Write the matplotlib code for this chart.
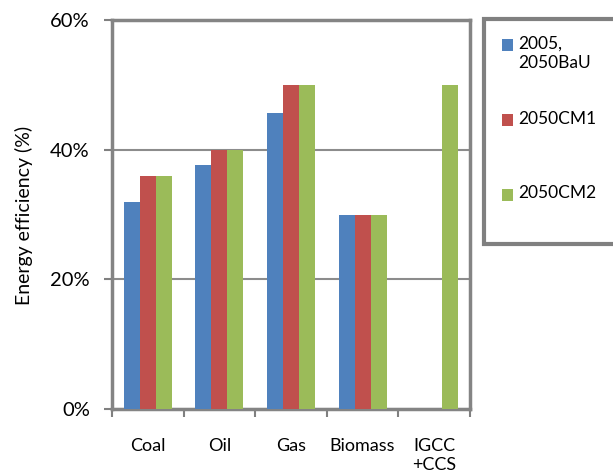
import matplotlib
matplotlib.use("Agg")
import matplotlib.pyplot as plt
from matplotlib.patches import Rectangle
import numpy as np

categories = ["Coal", "Oil", "Gas", "Biomass", "IGCC\n+CCS"]
series_names = ["2005,\n2050BaU", "2050CM1", "2050CM2"]
bau = [32.0, 37.7, 45.7, 30.0, 0.0]
cm1 = [36.0, 40.0, 50.0, 30.0, 0.0]
cm2 = [36.0, 40.0, 50.0, 30.0, 50.0]
yticks = [0, 20, 40, 60]
ytick_labels = ["0%", "20%", "40%", "60%"]
colors = ["#4F81BD", "#C0504D", "#9BBB59"]

plt.rcParams['font.family'] = ['Lato', 'DejaVu Sans']

fig = plt.figure(figsize=(6.13, 4.75), dpi=100)
W, H = 613, 475
ax = fig.add_axes([112 / W, 1 - 409 / H, (470 - 112) / W, (409 - 20) / H])

x = np.arange(len(categories))
bw = 0.224
for i, (vals, c) in enumerate(zip([bau, cm1, cm2], colors)):
    ax.bar(x + (i - 1) * bw, vals, width=bw, color=c, zorder=3, linewidth=0)

ax.set_xlim(-0.5, len(categories) - 0.5)
ax.set_ylim(0, 60)
ax.set_yticks(yticks)
ax.set_yticklabels(ytick_labels, fontsize=14.5)
ax.set_xticks(x)
ax.set_xticklabels(categories, fontsize=13, linespacing=1.25)
ax.set_xticks(np.arange(len(categories) + 1) - 0.5, minor=True)
ax.tick_params(axis='x', which='major', length=0, pad=21)
ax.tick_params(axis='x', which='minor', length=6, width=1.5, color='#808080', direction='out')
ax.tick_params(axis='y', length=6, width=1.5, color='#808080', direction='out', pad=10)
for lbl in ax.get_xticklabels():
    lbl.set_verticalalignment('top')

ax.grid(axis='y', color='#8c8c8c', linewidth=1.5, zorder=0)
for s in ax.spines.values():
    s.set_color('#848484')
    s.set_linewidth(2.5)

fig.text(24 / W, 1 - 215 / H, "Energy efficiency (%)", fontsize=14, rotation=90,
         ha='center', va='center')

# legend box
fig.add_artist(Rectangle((484 / W, 1 - 244 / H), (640 - 484) / W, (244 - 19) / H,
                         transform=fig.transFigure, facecolor='white',
                         edgecolor='#808080', linewidth=3, clip_on=False))
ys = [45, 120, 195]
for name, c, yy in zip(series_names, colors, ys):
    fig.add_artist(Rectangle((502 / W, 1 - (yy + 5.5) / H), 11 / W, 11 / H,
                             transform=fig.transFigure, facecolor=c, edgecolor='none'))
    fig.text(518 / W, 1 - (yy - 9.5) / H, name, fontsize=12.5, va='top', ha='left',
             linespacing=1.3)

fig.savefig("out.png", dpi=100)
